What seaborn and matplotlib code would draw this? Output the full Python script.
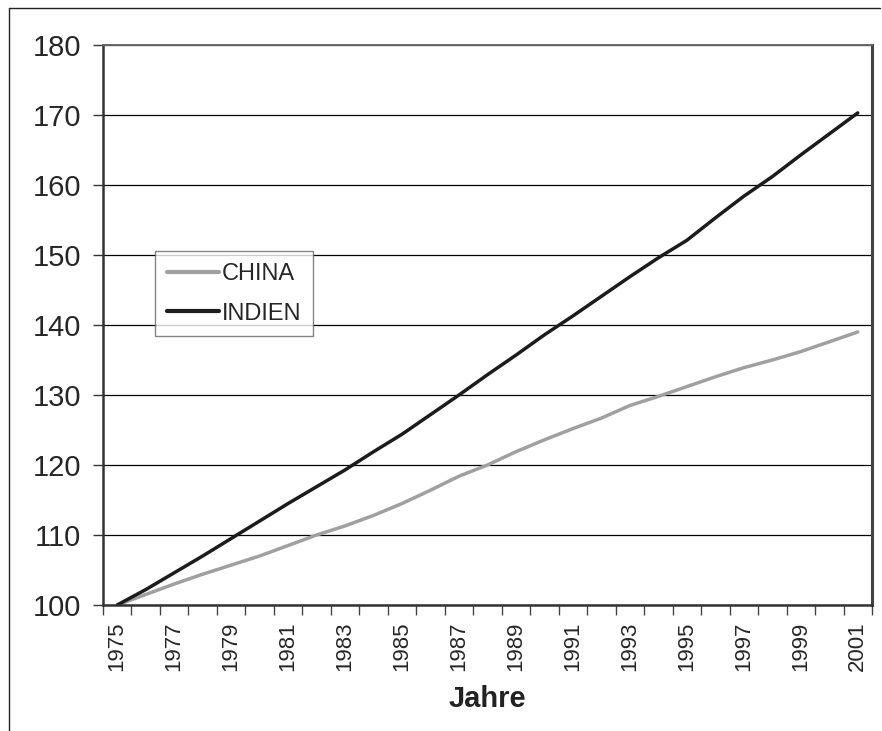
import matplotlib
matplotlib.use('Agg')
import matplotlib.pyplot as plt
from matplotlib.lines import Line2D
import numpy as np
import pandas as pd
import seaborn as sns

# Index values (1975 = 100)
years = list(range(1975, 2002))
china = [100.0, 101.5, 103.0, 104.4, 105.7, 107.0, 108.5, 110.0, 111.3, 112.8,
         114.5, 116.4, 118.4, 120.0, 121.9, 123.6, 125.2, 126.7, 128.5, 129.8,
         131.2, 132.6, 133.9, 135.0, 136.2, 137.6, 139.0]
indien = [100.0, 102.2, 104.6, 107.0, 109.5, 112.0, 114.5, 116.9, 119.3, 121.9,
          124.4, 127.2, 130.0, 132.9, 135.7, 138.6, 141.3, 144.1, 146.9, 149.6,
          152.1, 155.3, 158.4, 161.2, 164.3, 167.3, 170.3]
series_names = ['CHINA', 'INDIEN']
colors = {'CHINA': '#a0a0a0', 'INDIEN': '#1c1c1c'}

df = pd.DataFrame({
    'Jahr': years * 2,
    'Wert': china + indien,
    'Land': ['CHINA'] * len(years) + ['INDIEN'] * len(years),
})

sns.set_style('white')
plt.rcParams['font.family'] = ['Liberation Sans', 'DejaVu Sans']

fig = plt.figure(figsize=(8.82, 7.31), dpi=100)
ax = fig.add_axes([103 / 882, 1 - 605 / 731, 769 / 882, 560 / 731])

sns.lineplot(data=df, x='Jahr', y='Wert', hue='Land', hue_order=series_names,
             palette=colors, linewidth=2.5, ax=ax)

ax.set_xlim(years[0] - 0.5, years[-1] + 0.5)
ax.set_ylim(100, 180)
ax.set_yticks(np.arange(100, 181, 10))
ax.tick_params(axis='y', labelsize=21, length=7, width=1, color='#333333',
               direction='out', left=True, pad=9)
ax.yaxis.grid(True, color='black', linewidth=0.9)
ax.set_axisbelow(True)

# category-style x axis: labels at centres, tick marks between years
ax.set_xticks(years[::2])
ax.set_xticklabels([str(y) for y in years[::2]], rotation=90, fontsize=16)
ax.set_xticks(np.arange(years[0] - 0.5, years[-1] + 1, 1), minor=True)
ax.tick_params(axis='x', which='major', length=0, pad=12)
ax.tick_params(axis='x', which='minor', length=7, width=1, color='#444444',
               direction='out', bottom=True)

ax.set_xlabel('Jahre', fontsize=21, fontweight='bold', color='#222222', labelpad=10)
ax.set_ylabel('')

for side in ['left', 'bottom']:
    ax.spines[side].set_color('#333333')
    ax.spines[side].set_linewidth(1.8)
ax.spines['top'].set_color('#666666')
ax.spines['top'].set_linewidth(1.4)
ax.spines['right'].set_color('#444444')
ax.spines['right'].set_linewidth(2.2)

leg = ax.legend(loc='upper left', bbox_to_anchor=((155 - 103) / 769, (605 - 251) / 560),
                borderaxespad=0, fontsize=17, frameon=True, fancybox=False,
                handlelength=2.2, handletextpad=0.12, labelspacing=0.75,
                borderpad=0.5, title=None)
leg.get_frame().set_edgecolor('#666666')
leg.get_frame().set_linewidth(1.0)
for line in leg.get_lines():
    line.set_linewidth(3.0)

# outer frame of the picture (left and top)
fig.add_artist(Line2D([9 / 882, 9 / 882], [0, 1 - 8 / 731], transform=fig.transFigure,
                      color='#222222', linewidth=1.0))
fig.add_artist(Line2D([9 / 882, 880 / 882], [1 - 8 / 731, 1 - 8 / 731],
                      transform=fig.transFigure, color='#222222', linewidth=1.0))

fig.savefig('out.png', dpi=100)
plt.close('all')
